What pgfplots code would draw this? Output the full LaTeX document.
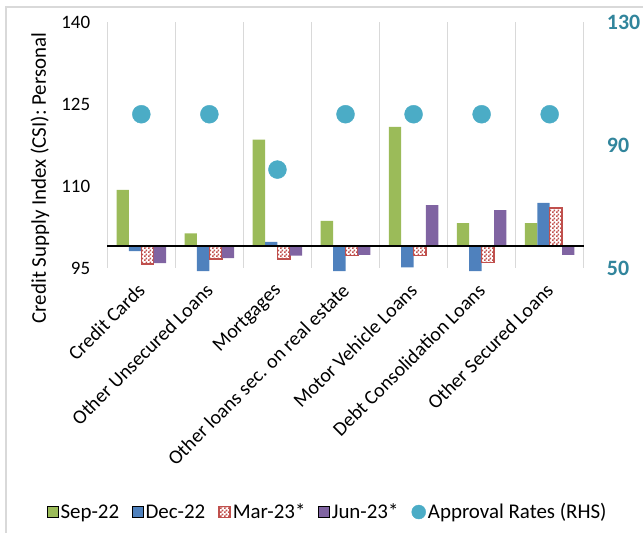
\documentclass[border=0pt]{standalone}
\usepackage{fontspec}
\setmainfont{Carlito}
\usepackage{pgfplots}
\usepackage{pgfplotstable}
\pgfplotsset{compat=1.18}
\usetikzlibrary{patterns.meta}
\definecolor{cgreen}{HTML}{9BBB59}
\definecolor{cblue}{HTML}{4F81BD}
\definecolor{cred}{HTML}{C0504D}
\definecolor{cpurple}{HTML}{8064A2}
\definecolor{cdot}{HTML}{4BACC6}
\definecolor{cteal}{HTML}{31859C}
\definecolor{cgrid}{HTML}{D9D9D9}

\pgfdeclarepattern{
  name=smallcheck, type=uncolored,
  bottom left={\pgfpoint{0bp}{0bp}}, top right={\pgfpoint{4bp}{4bp}},
  tile size={\pgfpoint{4bp}{4bp}},
  code={
    \pgfpathrectangle{\pgfpoint{0bp}{0bp}}{\pgfpoint{2bp}{2bp}}
    \pgfpathrectangle{\pgfpoint{2bp}{2bp}}{\pgfpoint{2bp}{2bp}}
    \pgfusepath{fill}
  }
}

\pgfplotstableread{
x sep dec mar jun appr
0 109.3 98.1 95.7 95.9 100
1 101.35 94.45 96.6 96.8 100
2 118.5 99.8 96.6 97.25 82
3 103.6 94.45 97.25 97.4 100
4 120.8 95.1 97.25 106.5 100
5 103.2 94.45 96.0 105.6 100
6 103.2 106.9 106.0 97.4 100
}\data

\pgfplotsset{
  sq/.style={legend image code/.code={\draw[##1] (0bp,-5.5bp) rectangle (11bp,5.5bp);}},
}

\begin{document}
\begin{tikzpicture}[x=1bp,y=1bp]
\useasboundingbox (0,0) rectangle (643,533);
\draw[color=cgrid, line width=1.5bp] (6,0) -- (6,526) -- (643,526);
\begin{axis}[
  at={(107.3bp,265bp)}, anchor=south west,
  scale only axis, width=476.4bp, height=246bp,
  xmin=-0.5, xmax=6.5, ymin=-4, ymax=41,
  ybar=0pt, bar width=12.4bp,
  ytick={-4,11,26,41}, yticklabels={95,110,125,140},
  xtick={0,...,6},
  xticklabels={Credit Cards,Other Unsecured Loans,Mortgages,Other loans sec. on real estate,Motor Vehicle Loans,Debt Consolidation Loans,Other Secured Loans},
  minor xtick={-0.5,0.5,1.5,2.5,3.5,4.5,5.5,6.5},
  xminorgrids, minor x grid style={cgrid, line width=1.5bp},
  axis line style={draw=none},
  major tick length=0pt, minor tick length=0pt,
  yticklabel style={font=\fontsize{19}{22}\selectfont},
  /pgf/number format/assume math mode=true,
  xticklabel style={font=\fontsize{20}{24}\selectfont, xshift=-5bp, yshift=-14bp, rotate=45, anchor=north east, inner sep=0pt},
  yticklabel style={inner sep=0pt, xshift=-17bp},
  clip=false,
  ylabel={Credit Supply Index (CSI): Personal},
  ylabel style={at={(axis description cs:-0.1413,0.366)}, anchor=center, font=\fontsize{21}{25}\selectfont},
  legend columns=-1,
  legend style={draw=none, fill=none, at={(axis description cs:0.463,-0.992)}, anchor=center,
    font=\fontsize{21}{25}\selectfont, inner sep=0pt,
    nodes={inner sep=2bp},
    /tikz/every even column/.append style={column sep=11bp}},
]
\addplot[sq, fill=cgreen, draw=none] table[x=x, y expr=\thisrow{sep}-99] {\data};
\addlegendentry{Sep-22}
\addplot[sq, fill=cblue, draw=none] table[x=x, y expr=\thisrow{dec}-99] {\data};
\addlegendentry{Dec-22}
\addplot[sq, pattern={smallcheck}, pattern color=cred, draw=cred, line width=1.5bp] table[x=x, y expr=\thisrow{mar}-99] {\data};
\addlegendentry{Mar-23*}
\addplot[sq, fill=cpurple, draw=none] table[x=x, y expr=\thisrow{jun}-99] {\data};
\addlegendentry{Jun-23*}
\addlegendimage{legend image code/.code={\fill[cdot] (7bp,0bp) circle (7bp);}}
\addlegendentry{Approval Rates (RHS)}
\draw[black, line width=2bp] (axis cs:-0.5,0) -- (axis cs:6.5,0);
\end{axis}
\begin{axis}[
  at={(107.3bp,265bp)}, anchor=south west,
  scale only axis, width=476.4bp, height=246bp,
  xmin=-0.5, xmax=6.5, ymin=50, ymax=130,
  axis y line*=right, axis x line=none,
  ytick={50,90,130},
  axis line style={draw=none},
  major tick length=0pt,
  /pgf/number format/assume math mode=true,
  yticklabel style={font=\fontsize{22}{26}\selectfont\bfseries, color=cteal, inner sep=0pt, xshift=23bp},
  clip=false,
]
\addplot[only marks, mark=*, mark size=9bp, color=cdot] table[x=x, y=appr] {\data};
\end{axis}
\end{tikzpicture}
\end{document}
